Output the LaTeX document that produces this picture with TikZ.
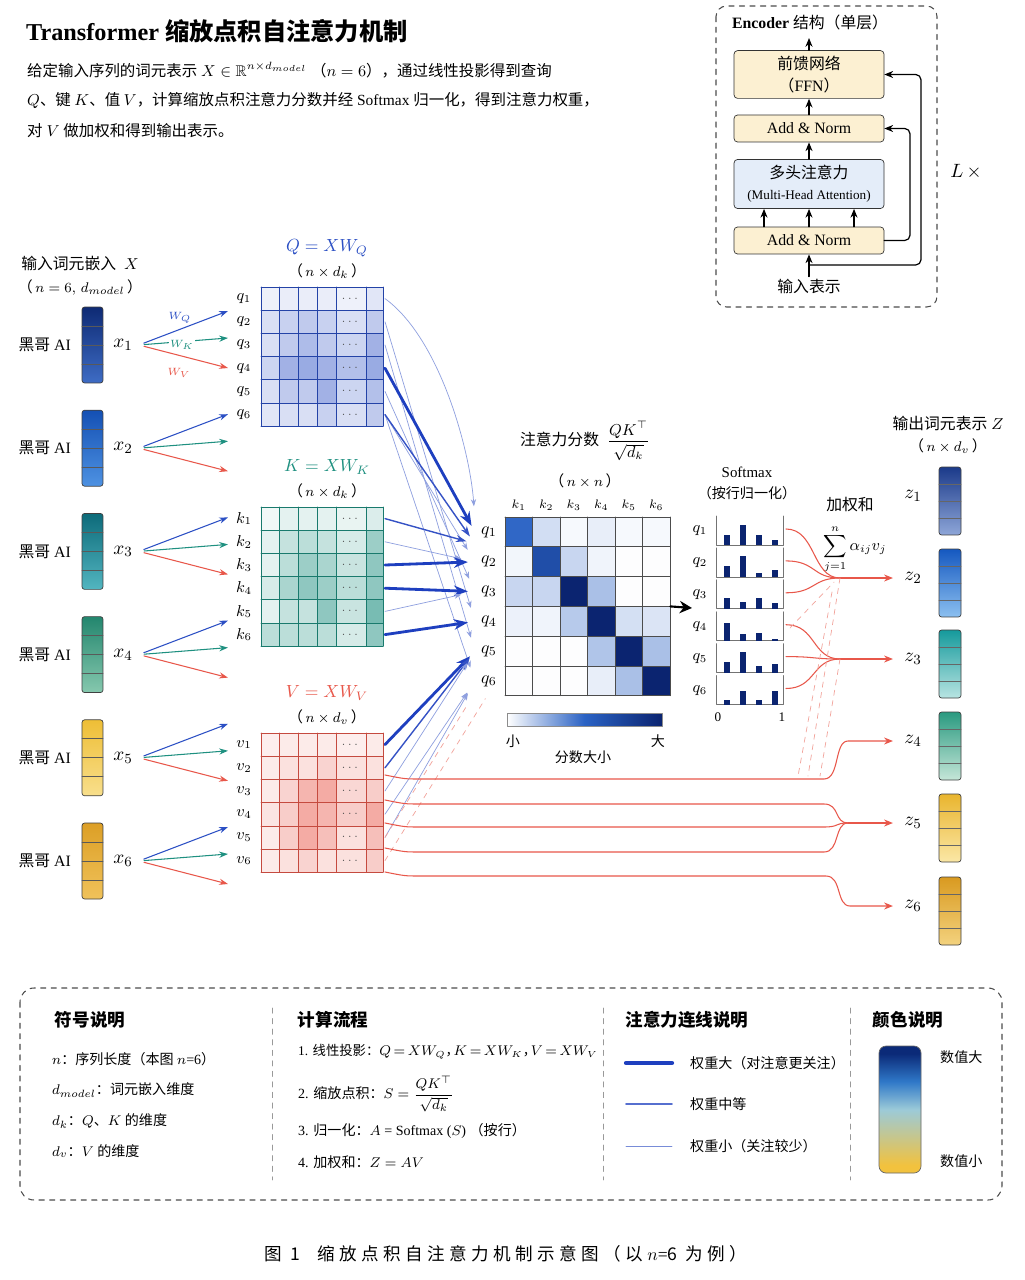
\documentclass[tikz,border=0pt]{standalone}
\usepackage{amsmath}
\usepackage{amssymb}
\usepackage{fontspec}
\setmainfont{Liberation Serif}
\newfontfamily\cjk{Noto Sans CJK SC}
\newfontfamily\cjkcap[LetterSpace=25]{Noto Sans CJK SC}
\usetikzlibrary{arrows.meta}

\definecolor{qblue}{HTML}{2B4FC4}
\definecolor{kteal}{HTML}{1E9080}
\definecolor{vred}{HTML}{E8574A}
\definecolor{navy}{HTML}{0B2470}
\definecolor{cellmid}{HTML}{2A62C4}
\definecolor{linkblue}{HTML}{1E3FBF}
\definecolor{boxyel}{HTML}{FCF0D2}
\definecolor{boxblue}{HTML}{E4EDF9}
% token colours (top / bottom)
\definecolor{xt1}{HTML}{0E2A74}\definecolor{xb1}{HTML}{3E6CC4}
\definecolor{xt2}{HTML}{1450B4}\definecolor{xb2}{HTML}{4E92E2}
\definecolor{xt3}{HTML}{0D6B7A}\definecolor{xb3}{HTML}{52B5C0}
\definecolor{xt4}{HTML}{23866E}\definecolor{xb4}{HTML}{86C8AE}
\definecolor{xt5}{HTML}{EEBE36}\definecolor{xb5}{HTML}{F8DF8C}
\definecolor{xt6}{HTML}{DC9F26}\definecolor{xb6}{HTML}{F0C25A}
\definecolor{zt1}{HTML}{1B3A8A}\definecolor{zb1}{HTML}{8EA6D8}
\definecolor{zt2}{HTML}{1558C0}\definecolor{zb2}{HTML}{8CC0F0}
\definecolor{zt3}{HTML}{159A9C}\definecolor{zb3}{HTML}{B8E4E2}
\definecolor{zt4}{HTML}{2A9A80}\definecolor{zb4}{HTML}{C5E6D8}
\definecolor{zt5}{HTML}{E9B52E}\definecolor{zb5}{HTML}{FBE7A6}
\definecolor{zt6}{HTML}{D99A20}\definecolor{zb6}{HTML}{F3D27E}
% legend bar
\definecolor{lgN}{HTML}{0B2A78}
\definecolor{lgB}{HTML}{2F78C8}
\definecolor{lgT}{HTML}{9CCAD8}
\definecolor{lgY}{HTML}{F2C23E}
\pgfdeclareverticalshading{valshade}{100bp}{color(0bp)=(lgY); color(28bp)=(lgY); color(40bp)=(lgY!45!lgT); color(50bp)=(lgT); color(61bp)=(lgB); color(72bp)=(lgN); color(100bp)=(lgN)}

\newcommand\zh[1]{{\cjk #1}}
\newcommand\fsz[1]{\fontsize{#1}{#1}\selectfont}
\def\colx{{261,279,298,317,336,366,383}}

% projection matrix: #1 name, #2 row letter, #3 top y, #4 colour, #5 tints
\newcommand\projmat[5]{%
  \foreach \rowv [count=\ri] in {#5} {
    \pgfmathsetmacro\yc{#3+23.2*(\ri-0.5)}
    \foreach \tv [count=\ci] in \rowv {
      \pgfmathsetmacro\xa{\colx[\ci-1]}
      \pgfmathsetmacro\xb{\colx[\ci]}
      \fill[#4!\tv] (\xa,\yc-11.6) rectangle (\xb,\yc+11.6);
    }
    \node[font=\fsz{6}, text=black!70] (#1d\ri) at (351,\yc) {$\cdots$};
    \node[font=\fsz{9}] (#1l\ri) at (244,\yc) {$#2_{\ri}$};
    \coordinate (#1e\ri) at (385,\yc);
  }
  \foreach \xx in {261,279,298,317,336,366,383}
    \draw[#4!85!black, line width=0.35pt] (\xx,#3) -- (\xx,#3+139.2);
  \foreach \kk in {0,...,6}
    \draw[#4!85!black, line width=0.35pt] (261,#3+23.2*\kk) -- (383,#3+23.2*\kk);
}

\begin{document}
\begin{tikzpicture}[
  x=0.02cm, y=-0.02cm,
  line cap=round,
  line join=round,
  lbl/.style={font=\fsz{9}, inner sep=1pt},
  tokbox/.style={draw=black!75, rounded corners=1.5pt, minimum width=0.42cm, minimum height=1.52cm, inner sep=0pt},
  zbox/.style={draw=black!75, rounded corners=1.5pt, minimum width=0.44cm, minimum height=1.36cm, inner sep=0pt},
  proj/.style={line width=0.6pt, -{Stealth[length=5pt, width=3.5pt]}, shorten <=3pt},
  encbox/.style={draw=black!80, rounded corners=2pt, minimum width=3cm, align=center, font=\fsz{9}},
  encarrow/.style={line width=0.7pt, -{Stealth[length=5pt, width=4pt]}},
  attbig/.style={draw=linkblue, line width=1.6pt, -{Stealth[length=8pt, width=6pt]}, shorten >=4pt},
  attmid/.style={draw=linkblue!90, line width=0.8pt, -{Stealth[length=6pt, width=4pt]}, shorten >=5pt},
  attlow/.style={draw=linkblue!50, line width=0.4pt, -{Stealth[length=4pt, width=3pt]}, shorten >=8pt},
  vzline/.style={draw=vred, line width=0.6pt},
  vzarrow/.style={vzline, -{Stealth[length=5pt, width=4pt]}, shorten >=3pt},
  redhint/.style={draw=vred!55, line width=0.4pt, dashed},
  leghead/.style={font=\bfseries\fsz{10}},
  legitem/.style={font=\fsz{8}, anchor=west}
]

\fill[white] (0,0) rectangle (1024,1280);
\useasboundingbox (0,0) rectangle (1024,1280);

% --- Title and description ---
\node[anchor=west, font=\bfseries\fsz{13.8}] (title) at (20,31) {Transformer \zh{缩放点积自注意力机制}};
\node[anchor=west, font=\fsz{8.8}] (desc1) at (21,70) {\zh{给定输入序列的词元表示} $X\in\mathbb{R}^{n\times d_{model}}$ \zh{（}$n=6$\zh{），通过线性投影得到查询}};
\node[anchor=west, font=\fsz{8.8}] (desc2) at (21,100) {$Q$\zh{、键 }$K$\zh{、值 }$V$\zh{，计算缩放点积注意力分数并经} Softmax \zh{归一化，得到注意力权重，}};
\node[anchor=west, font=\fsz{8.8}] (desc3) at (21,131) {\zh{对} $V$ \zh{做加权和得到输出表示。}};

% --- Encoder block ---
\draw[black!70, dashed, rounded corners=6pt, line width=0.6pt] (716,6) rectangle (937,307);
\node[font=\fsz{9}] (enctitle) at (810,22) {\textbf{Encoder} \zh{结构（单层）}};
\node[encbox, fill=boxyel, minimum height=0.9cm] (ffn) at (809,74.5) {\zh{前馈网络}\\[3pt]\zh{（}FFN\zh{）}};
\node[encbox, fill=boxyel, minimum height=0.54cm] (an2) at (809,128.5) {Add \& Norm};
\node[encbox, fill=boxblue, minimum height=0.92cm] (mha) at (809,184) {\zh{多头注意力}\\[3pt]{\fsz{7.5}(Multi-Head Attention)}};
\node[encbox, fill=boxyel, minimum height=0.54cm] (an1) at (809,240.5) {Add \& Norm};
\node[lbl] (encin) at (809,286) {\zh{输入表示}};
\coordinate (encout) at (809,38);
\coordinate (resfork) at (809,265);
\draw[encarrow] (encin.north) -- (an1.south);
\foreach \dx in {-45,0,45}
  \draw[encarrow] ([xshift=\dx*0.02cm]an1.north) -- ([xshift=\dx*0.02cm]mha.south);
\draw[encarrow] (mha) -- (an2);
\draw[encarrow] (an2) -- (ffn);
\draw[encarrow] (ffn.north) -- (encout);
\draw[encarrow, rounded corners=3pt] (resfork) -| (921,74.5) -- (ffn.east);
\draw[encarrow, rounded corners=3pt] (an1.east) -| (910,128.5) -- (an2.east);
\node[font=\fsz{11}] (lx) at (966,172) {$L\,\times$};

% --- Input token embeddings ---
\node[lbl] (xtitle) at (80,263) {\zh{输入词元嵌入}\ \ $X$};
\node[font=\fsz{8.5}] (xdim) at (80,287) {\zh{（}\,$n=6,\,d_{model}$\,\zh{）}};
\foreach \i in {1,...,6}{
  \pgfmathsetmacro\yc{345+103.2*(\i-1)}
  \node[lbl, anchor=east] (w\i) at (73,\yc) {\zh{黑哥} AI};
  \node[tokbox, top color=xt\i, bottom color=xb\i] (t\i) at (92.5,\yc) {};
  \foreach \d in {-19,0,19}
    \draw[black!65, line width=0.4pt] (82,\yc+\d) -- (103,\yc+\d);
  \node[font=\fsz{11}] (x\i) at (123,\yc) {$x_{\i}$};
  \coordinate (pq\i) at (228,\yc-34);
  \coordinate (pk\i) at (228,\yc-7);
  \coordinate (pv\i) at (228,\yc+23);
  \draw[proj, qblue] (x\i.east) -- (pq\i);
  \draw[proj, kteal] (x\i.east) -- (pk\i);
  \draw[proj, vred] (x\i.east) -- (pv\i);
}
\node[font=\fsz{6.5}, text=qblue] (wq) at (180,318) {$W_Q$};
\node[font=\fsz{6.5}, text=kteal, fill=white, inner sep=0.5pt] (wk) at (182,345) {$W_K$};
\node[font=\fsz{6.5}, text=vred] (wv) at (179,373) {$W_V$};

% --- Q, K, V matrices ---
\node[font=\fsz{10}, text=qblue] (qtitle) at (327,248) {$Q = XW_Q$};
\node[font=\fsz{8.5}] (qdim) at (327,271) {\zh{（}\,$n\times d_k$\,\zh{）}};
\projmat{Q}{q}{287}{qblue}{{8,10,10,10,8,14},{18,26,30,26,18,30},{18,30,38,30,24,44},{24,44,48,44,36,48},{18,30,30,44,24,36},{14,18,18,26,18,30}}

\node[font=\fsz{10}, text=kteal] (ktitle) at (327,467) {$K = XW_K$};
\node[font=\fsz{8.5}] (kdim) at (327,491) {\zh{（}\,$n\times d_k$\,\zh{）}};
\projmat{K}{k}{507}{kteal}{{6,12,12,12,10,16},{12,26,30,26,18,44},{12,30,44,38,24,50},{18,38,50,44,30,50},{12,26,26,50,24,60},{30,30,30,30,18,50}}

\node[font=\fsz{10}, text=vred] (vtitle) at (327,693) {$V = XW_V$};
\node[font=\fsz{8.5}] (vdim) at (327,717) {\zh{（}\,$n\times d_v$\,\zh{）}};
\projmat{V}{v}{733}{vred}{{10,12,12,12,10,12},{12,18,18,26,18,18},{12,26,44,50,24,30},{16,30,50,44,30,50},{12,30,50,38,18,38},{12,18,26,18,18,30}}

% --- Attention score matrix ---
\node[font=\fsz{9}] (atitle) at (585,441) {\zh{注意力分数}\ \ $\dfrac{QK^{\top}}{\sqrt{d_k}}$};
\node[font=\fsz{8.5}] (adim) at (585,481) {\zh{（}\,$n\times n$\,\zh{）}};
\foreach \rowv [count=\ri] in {{68,15,3,8,3,3},{4,80,18,5,1,1},{18,18,100,28,1,1},{6,5,24,100,14,12},{1,1,1,26,100,28},{1,1,1,8,28,100}} {
  \foreach \tv [count=\ci] in \rowv {
    \ifnum\tv>70 \edef\cc{navy!\the\numexpr(\tv-70)*10/3\relax!cellmid}\else\edef\cc{cellmid!\the\numexpr\tv*10/7\relax}\fi
    \fill[fill=\cc] (505+27.5*\ci-27.5,517+29.8*\ri-29.8) rectangle (505+27.5*\ci,517+29.8*\ri);
  }
}
\foreach \kk in {0,...,6}{
  \draw[black!70, line width=0.4pt] (505+27.5*\kk,517) -- (505+27.5*\kk,695.8);
  \draw[black!70, line width=0.4pt] (505,517+29.8*\kk) -- (670,517+29.8*\kk);
}
\node[inner sep=0pt, minimum width=3.3cm, minimum height=3.58cm] (amat) at (587.5,606.4) {};
\foreach \i in {1,...,6}{
  \node[font=\fsz{10}] (aq\i) at (489,532+29.8*\i-29.8) {$q_{\i}$};
  \node[font=\fsz{7}] (ak\i) at (518.7+27.5*\i-27.5,505) {$k_{\i}$};
}
\shade[left color=white, right color=navy, middle color=cellmid] (507,713) rectangle (662,726);
\draw[black!45, line width=0.3pt] (507,713) rectangle (662,726);
\node[font=\fsz{8}] (small) at (513,741) {\zh{小}};
\node[font=\fsz{8}] (large) at (658,741) {\zh{大}};
\node[font=\fsz{8}] (cbar) at (583,757) {\zh{分数大小}};

% --- Connectors Q/K/V -> attention rows ---
\draw[attlow] (Qe1) .. controls +(55,40) and +(-5,-70) .. (aq1.north west);
\draw[attlow] (Qe2) -- (aq4.west);
\draw[attlow] (Qe3) -- (aq5.west);
\draw[attlow] (Qe5) -- (aq3.west);
\draw[attlow] (Qe6) -- (aq2.west);
\draw[attlow] (Qe6) -- (aq6.west);
\draw[attbig] (Qe4) -- (aq1.west);
\draw[attmid] (Qe6) -- (aq1.south west);

\draw[attmid] (Ke1) -- (aq1.south west);
\draw[attlow] (Ke2) -- (aq2.west);
\draw[attbig] (Ke3) -- (aq2.west);
\draw[attbig] (Ke4) -- (aq3.west);
\draw[attlow] (Ke5) -- (aq3.west);
\draw[attbig] (Ke6) -- (aq4.west);

\draw[attbig] (Ve1) -- (aq5.west);
\draw[attmid] (Ve2) -- (aq5.west);
\draw[attlow] (Ve3) -- (aq5.west);
\draw[attlow] (Ve4) -- (aq6.west);
\draw[attlow] (Ve5) -- (aq6.west);
\draw[redhint, shorten >=8pt] (Ve5) -- (aq6.south west);
\draw[redhint, shorten >=4pt] (Ve6) -- (aq6.south);

% --- Softmax ---
\coordinate (smin) at (692,608);
\draw[line width=1.2pt, -{Stealth[length=7pt, width=7pt]}] (amat.east) -- (smin);
\node[font=\fsz{8.5}] (smtitle) at (747,472) {Softmax};
\node[font=\fsz{8}] (smsub) at (747,493) {\zh{（按行归一化）}};
\foreach \hts [count=\ri] in {{.35,.72,.35,.18},{.40,.75,.15,.25},{.40,.25,.38,.20},{.62,.25,.27,.07},{.38,.72,.22,.30},{.15,.50,.15,.50}} {
  \pgfmathsetmacro\yb{545+31.9*(\ri-1)}
  \draw[black!55, line width=0.4pt] (716,\yb-29) -- (716,\yb) -- (783,\yb) -- (783,\yb-29);
  \node[font=\fsz{9}] (sq\ri) at (700,\yb-14) {$q_{\ri}$};
  \coordinate (se\ri) at (786,\yb-16);
  \foreach \h [count=\ci] in \hts {
    \pgfmathsetmacro\bx{711+16*\ci}
    \fill[navy] (\bx-3,\yb) rectangle (\bx+3,\yb-28*\h);
  }
}
\node[font=\fsz{7.5}] (s0) at (718,717) {0};
\node[font=\fsz{7.5}] (s1) at (782,717) {1};

% --- Weighted sum ---
\node[lbl] (wsum) at (850,505) {\zh{加权和}};
\node[font=\fsz{9}] (wform) at (855,549) {$\displaystyle\sum_{j=1}^{n}\alpha_{ij}v_j$};

% --- Output tokens ---
\node[lbl] (ztitle) at (948,423) {\zh{输出词元表示} $Z$};
\node[font=\fsz{8.5}] (zdim) at (948,446) {\zh{（}\,$n\times d_v$\,\zh{）}};
\foreach \i/\yc in {1/501,2/583,3/664,4/746,5/828,6/911}{
  \node[zbox, top color=zt\i, bottom color=zb\i] (z\i) at (950,\yc) {};
  \foreach \d in {-17,0,17}
    \draw[black!60, line width=0.4pt] (939,\yc+\d) -- (961,\yc+\d);
  \node[font=\fsz{11}] (zl\i) at (913,\yc-5) {$z_{\i}$};
}

% --- Weighted sums into outputs ---
\coordinate (m2) at (840,578);
\coordinate (m3) at (840,659);
\coordinate (m5) at (848,823);
\foreach \i in {1,2,3}
  \draw[vzline] (se\i) .. controls +(30,0) and +(-28,0) .. (m2);
\foreach \i in {4,5,6}
  \draw[vzline] (se\i) .. controls +(30,0) and +(-28,0) .. (m3);
\draw[vzarrow] (m2) -- (zl2.west);
\draw[vzarrow] (m3) -- (zl3.west);
\draw[redhint] (m2) -- (808,776);
\draw[redhint] (m3) -- (820,776);
\draw[redhint] (832,592) -- (798,776);
\draw[redhint] (790,628) -- (834,582);

\coordinate (vs1) at (385,775);
\coordinate (vs2) at (385,800);
\coordinate (vs3) at (385,823);
\coordinate (vs4) at (385,848);
\coordinate (vs5) at (385,872);
\draw[vzarrow] (vs1) .. controls +(20,4) and +(-15,0) .. (420,779) -- (824,779) .. controls +(16,0) and +(-14,0) .. (848,741) -- (zl4.west);
\draw[vzline] (vs2) .. controls +(20,4) and +(-15,0) .. (420,804) -- (824,804) .. controls +(16,0) and +(-14,0) .. (m5);
\draw[vzline] (vs3) .. controls +(20,4) and +(-15,0) .. (420,827) -- (824,827) .. controls +(16,0) and +(-14,0) .. (m5);
\draw[vzline] (vs4) .. controls +(20,4) and +(-15,0) .. (420,852) -- (824,852) .. controls +(16,0) and +(-14,0) .. (m5);
\draw[vzarrow] (m5) -- (zl5.west);
\draw[vzarrow] (vs5) .. controls +(20,4) and +(-15,0) .. (420,876) -- (826,876) .. controls +(16,0) and +(-14,0) .. (850,906) -- (zl6.west);

% --- Legend ---
\draw[black!70, dashed, rounded corners=8pt, line width=0.6pt] (20,988) rectangle (1002,1200);
\foreach \xx in {272,603,850}
  \draw[black!40, dashed, line width=0.4pt] (\xx,1008) -- (\xx,1180);
\node[leghead] (h1) at (90,1020) {\zh{符号说明}};
\node[leghead] (h2) at (333,1020) {\zh{计算流程}};
\node[leghead] (h3) at (687,1020) {\zh{注意力连线说明}};
\node[leghead] (h4) at (908,1020) {\zh{颜色说明}};

\node[legitem] (sy1) at (46,1059) {$n$\zh{：序列长度（本图} $n$=6\zh{）}};
\node[legitem] (sy2) at (46,1090) {$d_{model}$\zh{：词元嵌入维度}};
\node[legitem] (sy3) at (46,1121) {$d_k$\zh{：}$Q$\zh{、}$K$ \zh{的维度}};
\node[legitem] (sy4) at (46,1151) {$d_v$\zh{：}$V$ \zh{的维度}};

\node[legitem, font=\fsz{7.6}] (pr1) at (292,1052) {1. \zh{线性投影：}$Q\,{=}\,XW_Q$\zh{，}\kern-3pt$K\,{=}\,XW_K$\zh{，}\kern-3pt$V\,{=}\,XW_V$};
\node[legitem] (pr2) at (292,1094) {2. \zh{缩放点积：}$S = \dfrac{QK^{\top}}{\sqrt{d_k}}$};
\node[legitem] (pr3) at (292,1131) {3. \zh{归一化：}$A$ = Softmax ($S$) \zh{（按行）}};
\node[legitem] (pr4) at (292,1162) {4. \zh{加权和：}$Z = AV$};

\draw[linkblue, line width=2.4pt] (626,1063) -- (672,1063);
\draw[linkblue!75, line width=0.9pt] (626,1104) -- (672,1104);
\draw[linkblue!60, line width=0.5pt] (626,1146) -- (672,1146);
\node[legitem] (lw1) at (684,1063) {\zh{权重大（对注意更关注）}};
\node[legitem] (lw2) at (684,1104) {\zh{权重中等}};
\node[legitem] (lw3) at (684,1146) {\zh{权重小（关注较少）}};

\shade[shading=valshade, rounded corners=4pt] (879,1046) rectangle (921,1173);
\draw[black!60, rounded corners=4pt, line width=0.4pt] (879,1046) rectangle (921,1173);
\node[legitem] (vbig) at (934,1057) {\zh{数值大}};
\node[legitem] (vsmall) at (934,1161) {\zh{数值小}};

% --- Caption ---
\node[font=\fsz{10}] (caption) at (506,1254) {{\cjkcap 图 1\quad 缩放点积自注意力机制示意图（以} $n$={\cjkcap 6 为例）}};

\end{tikzpicture}
\end{document}
